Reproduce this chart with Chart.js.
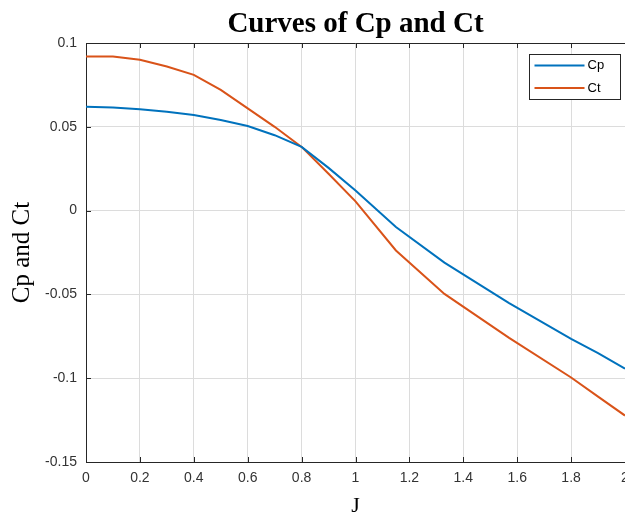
<!DOCTYPE html>
<html>
<head>
<meta charset="utf-8">
<script src="https://cdn.jsdelivr.net/npm/chart.js@4"></script>
<style>
  html, body { margin: 0; padding: 0; background: #fff; }
  #wrap { width: 625px; height: 517px; }
</style>
</head>
<body>
<div id="wrap"><canvas id="cpct" width="625" height="517"></canvas></div>
<script>
// values
const J  = [0, 0.1, 0.2, 0.3, 0.4, 0.5, 0.6, 0.7, 0.8, 0.9, 1.0, 1.15, 1.33, 1.57, 1.8, 1.9, 2.0];
const Cp = [0.062, 0.0615, 0.0605, 0.059, 0.057, 0.054, 0.0505, 0.045, 0.038, 0.0255, 0.012, -0.0098, -0.031, -0.0552, -0.0765, -0.085, -0.0943];
const Ct = [0.092, 0.092, 0.090, 0.086, 0.081, 0.072, 0.061, 0.050, 0.038, 0.022, 0.0055, -0.0238, -0.0497, -0.0759, -0.0996, -0.111, -0.1223];
const xTicks = [0, 0.2, 0.4, 0.6, 0.8, 1, 1.2, 1.4, 1.6, 1.8, 2];
const yTicks = [-0.15, -0.1, -0.05, 0, 0.05, 0.1];

const AXIS = "#262626";
const sans = "'Liberation Sans', Arial, sans-serif";
const serif = "'Liberation Serif', 'Times New Roman', serif";

const pts = ys => J.map((x, i) => ({ x: x, y: ys[i] }));

// matlab style: inward ticks, box on top, legend inside the axes
const matlabBox = {
    id: "matlabBox",
    afterDraw(chart) {
        const { ctx, chartArea: a, scales } = chart;
        ctx.save();
        ctx.strokeStyle = AXIS;
        ctx.lineWidth = 1;
        ctx.beginPath();
        ctx.moveTo(a.left, a.top + 0.5);
        ctx.lineTo(a.right, a.top + 0.5);
        xTicks.forEach(v => {
            const px = Math.round(scales.x.getPixelForValue(v)) + 0.5;
            ctx.moveTo(px, a.bottom); ctx.lineTo(px, a.bottom - 5);
            ctx.moveTo(px, a.top); ctx.lineTo(px, a.top + 5);
        });
        yTicks.forEach(v => {
            const py = Math.round(scales.y.getPixelForValue(v)) + 0.5;
            ctx.moveTo(a.left, py); ctx.lineTo(a.left + 5, py);
        });
        ctx.stroke();

        // legend
        const bx = 529.5, by = 54.5, bw = 91, bh = 45;
        ctx.fillStyle = "#fff";
        ctx.fillRect(bx, by, bw, bh);
        ctx.strokeRect(bx, by, bw, bh);
        ctx.font = "13px " + sans;
        ctx.textBaseline = "middle";
        chart.data.datasets.forEach((ds, i) => {
            const ly = by + 11 + i * 22.5;
            ctx.strokeStyle = ds.borderColor;
            ctx.lineWidth = 2;
            ctx.beginPath();
            ctx.moveTo(bx + 5, ly); ctx.lineTo(bx + 55, ly);
            ctx.stroke();
            ctx.fillStyle = "#000";
            ctx.fillText(ds.label, bx + 58, ly);
        });
        ctx.restore();
    }
};

new Chart(document.getElementById("cpct").getContext("2d"), {
    type: "line",
    data: {
        datasets: [
            { label: "Cp", data: pts(Cp), borderColor: "#0072BD", borderWidth: 2, pointRadius: 0, tension: 0 },
            { label: "Ct", data: pts(Ct), borderColor: "#D95319", borderWidth: 2, pointRadius: 0, tension: 0 }
        ]
    },
    options: {
        responsive: false,
        animation: false,
        layout: { padding: 0 },
        plugins: {
            legend: { display: false },
            tooltip: { enabled: false },
            title: {
                display: true,
                fullSize: false,
                text: "Curves of Cp and Ct",
                color: "#000",
                font: { family: serif, size: 29, weight: "bold", lineHeight: 1.2 },
                padding: { top: 7.5, bottom: 0.7 }
            }
        },
        scales: {
            x: {
                type: "linear",
                min: 0, max: 2,
                afterBuildTicks: s => { s.ticks = xTicks.map(v => ({ value: v })); },
                afterFit: s => { s.height = 55; s.paddingLeft = 0; s.paddingRight = 0; },
                ticks: { color: "#333", font: { family: sans, size: 14 }, padding: 8, maxRotation: 0, callback: v => String(v) },
                grid: { color: "#dcdcdc", drawTicks: false },
                border: { display: true, color: AXIS, width: 1 },
                title: { display: true, text: "J", color: "#000", font: { family: serif, size: 22, lineHeight: 1 }, padding: { top: 0, bottom: 0 } }
            },
            y: {
                min: -0.15, max: 0.1,
                afterBuildTicks: s => { s.ticks = yTicks.map(v => ({ value: v })); },
                afterFit: s => { s.width = 86; s.paddingTop = 0; s.paddingBottom = 0; },
                ticks: { color: "#333", font: { family: sans, size: 14 }, padding: 9, callback: v => String(v) },
                grid: { color: "#dcdcdc", drawTicks: false },
                border: { display: true, color: AXIS, width: 1 },
                title: { display: true, text: "Cp and Ct", color: "#000", font: { family: serif, size: 25, lineHeight: 1.2 }, padding: { top: 7, bottom: 0 } }
            }
        }
    },
    plugins: [matlabBox]
});
</script>
</body>
</html>
